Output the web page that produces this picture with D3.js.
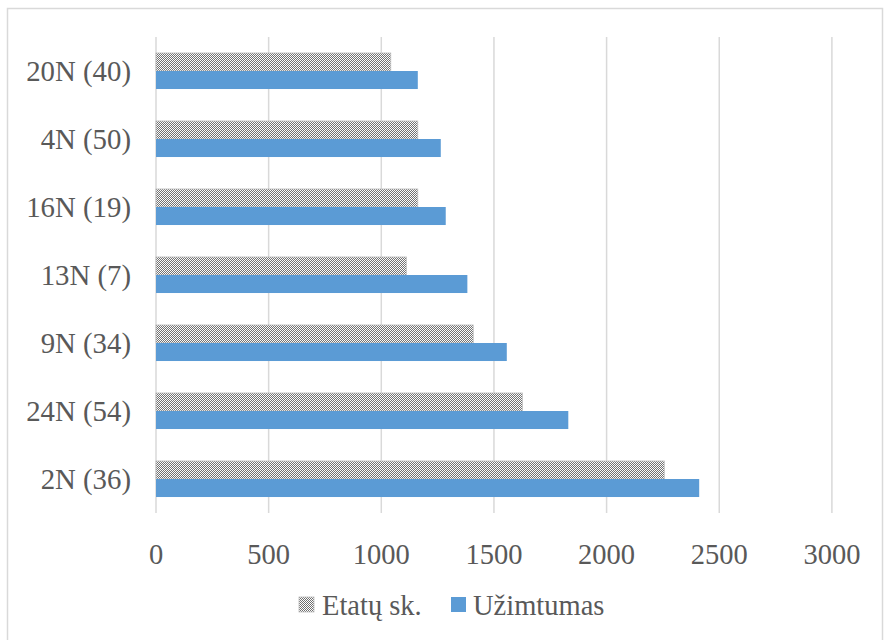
<!DOCTYPE html>
<html>
<head>
<meta charset="utf-8">
<script src="https://cdn.jsdelivr.net/npm/d3@7"></script>
<style>
html,body{margin:0;padding:0;background:#fff;}
svg{display:block;}
text{font-family:"Liberation Serif","Times New Roman",serif;fill:#595959;}
</style>
</head>
<body>
<svg id="chart" width="884" height="640"></svg>
<script>
const categories = ["20N (40)", "4N (50)", "16N (19)", "13N (7)", "9N (34)", "24N (54)", "2N (36)"];
const etatuSk = [1042, 1162, 1162, 1111, 1408, 1626, 2256];
const uzimtumas = [1162, 1264, 1286, 1382, 1557, 1830, 2411];
const xTicks = [0, 500, 1000, 1500, 2000, 2500, 3000];
const seriesNames = ["Etatų sk.", "Užimtumas"];

const svg = d3.select("#chart");
const defs = svg.append("defs");
const pat = defs.append("pattern").attr("id","checker").attr("patternUnits","userSpaceOnUse")
  .attr("width",2).attr("height",2);
pat.append("rect").attr("width",2).attr("height",2).attr("fill","#ffffff");
pat.append("rect").attr("x",0).attr("y",0).attr("width",1).attr("height",1).attr("fill","#6f6f6f");
pat.append("rect").attr("x",1).attr("y",1).attr("width",1).attr("height",1).attr("fill","#6f6f6f");

// chart border
svg.append("rect").attr("x",7.5).attr("y",8.5).attr("width",875).attr("height",640)
  .attr("fill","none").attr("stroke","#d9d9d9").attr("stroke-width",1.5);

const x = d3.scaleLinear().domain([0,3000]).range([156,831.9]);
const y = d3.scaleBand().domain(categories).range([37,513]).paddingInner(0.47).paddingOuter(0.235);
const yInner = d3.scaleBand().domain(seriesNames).range([0,y.bandwidth()]);

// gridlines
svg.append("g").selectAll("line").data(xTicks).join("line")
  .attr("x1",d=>x(d)).attr("x2",d=>x(d)).attr("y1",37).attr("y2",513)
  .attr("stroke","#d9d9d9").attr("stroke-width",1.5);

const data = categories.map((c,i)=>({c, vals:[etatuSk[i], uzimtumas[i]]}));
const groups = svg.append("g").selectAll("g").data(data).join("g")
  .attr("transform",d=>`translate(0,${y(d.c)})`);
groups.append("rect")
  .attr("x",x(0)).attr("y",yInner(seriesNames[0]))
  .attr("width",d=>x(d.vals[0])-x(0)).attr("height",yInner.bandwidth())
  .attr("fill","url(#checker)").attr("stroke","#bdbdbd").attr("stroke-width",0.8);
groups.append("rect")
  .attr("x",x(0)).attr("y",yInner(seriesNames[1]))
  .attr("width",d=>x(d.vals[1])-x(0)).attr("height",yInner.bandwidth())
  .attr("fill","#5b9bd5");

// category labels
svg.append("g").selectAll("text").data(categories).join("text")
  .attr("x",131).attr("y",d=>y(d)+y.bandwidth()/2).attr("dy","0.33em")
  .attr("text-anchor","end").attr("font-size",28.8).text(d=>d);

// x tick labels
svg.append("g").selectAll("text").data(xTicks).join("text")
  .attr("x",d=>x(d)).attr("y",564).attr("text-anchor","middle")
  .attr("font-size",28.5).text(d=>d);

// legend
const legend = svg.append("g");
legend.append("rect").attr("x",299).attr("y",597).attr("width",15).attr("height",15)
  .attr("fill","url(#checker)").attr("stroke","#bdbdbd").attr("stroke-width",0.8);
legend.append("text").attr("x",322).attr("y",615).attr("font-size",28.5).text(seriesNames[0]);
legend.append("rect").attr("x",451).attr("y",597).attr("width",15).attr("height",15).attr("fill","#5b9bd5");
legend.append("text").attr("x",473).attr("y",615).attr("font-size",28.5).text(seriesNames[1]);
</script>
</body>
</html>
